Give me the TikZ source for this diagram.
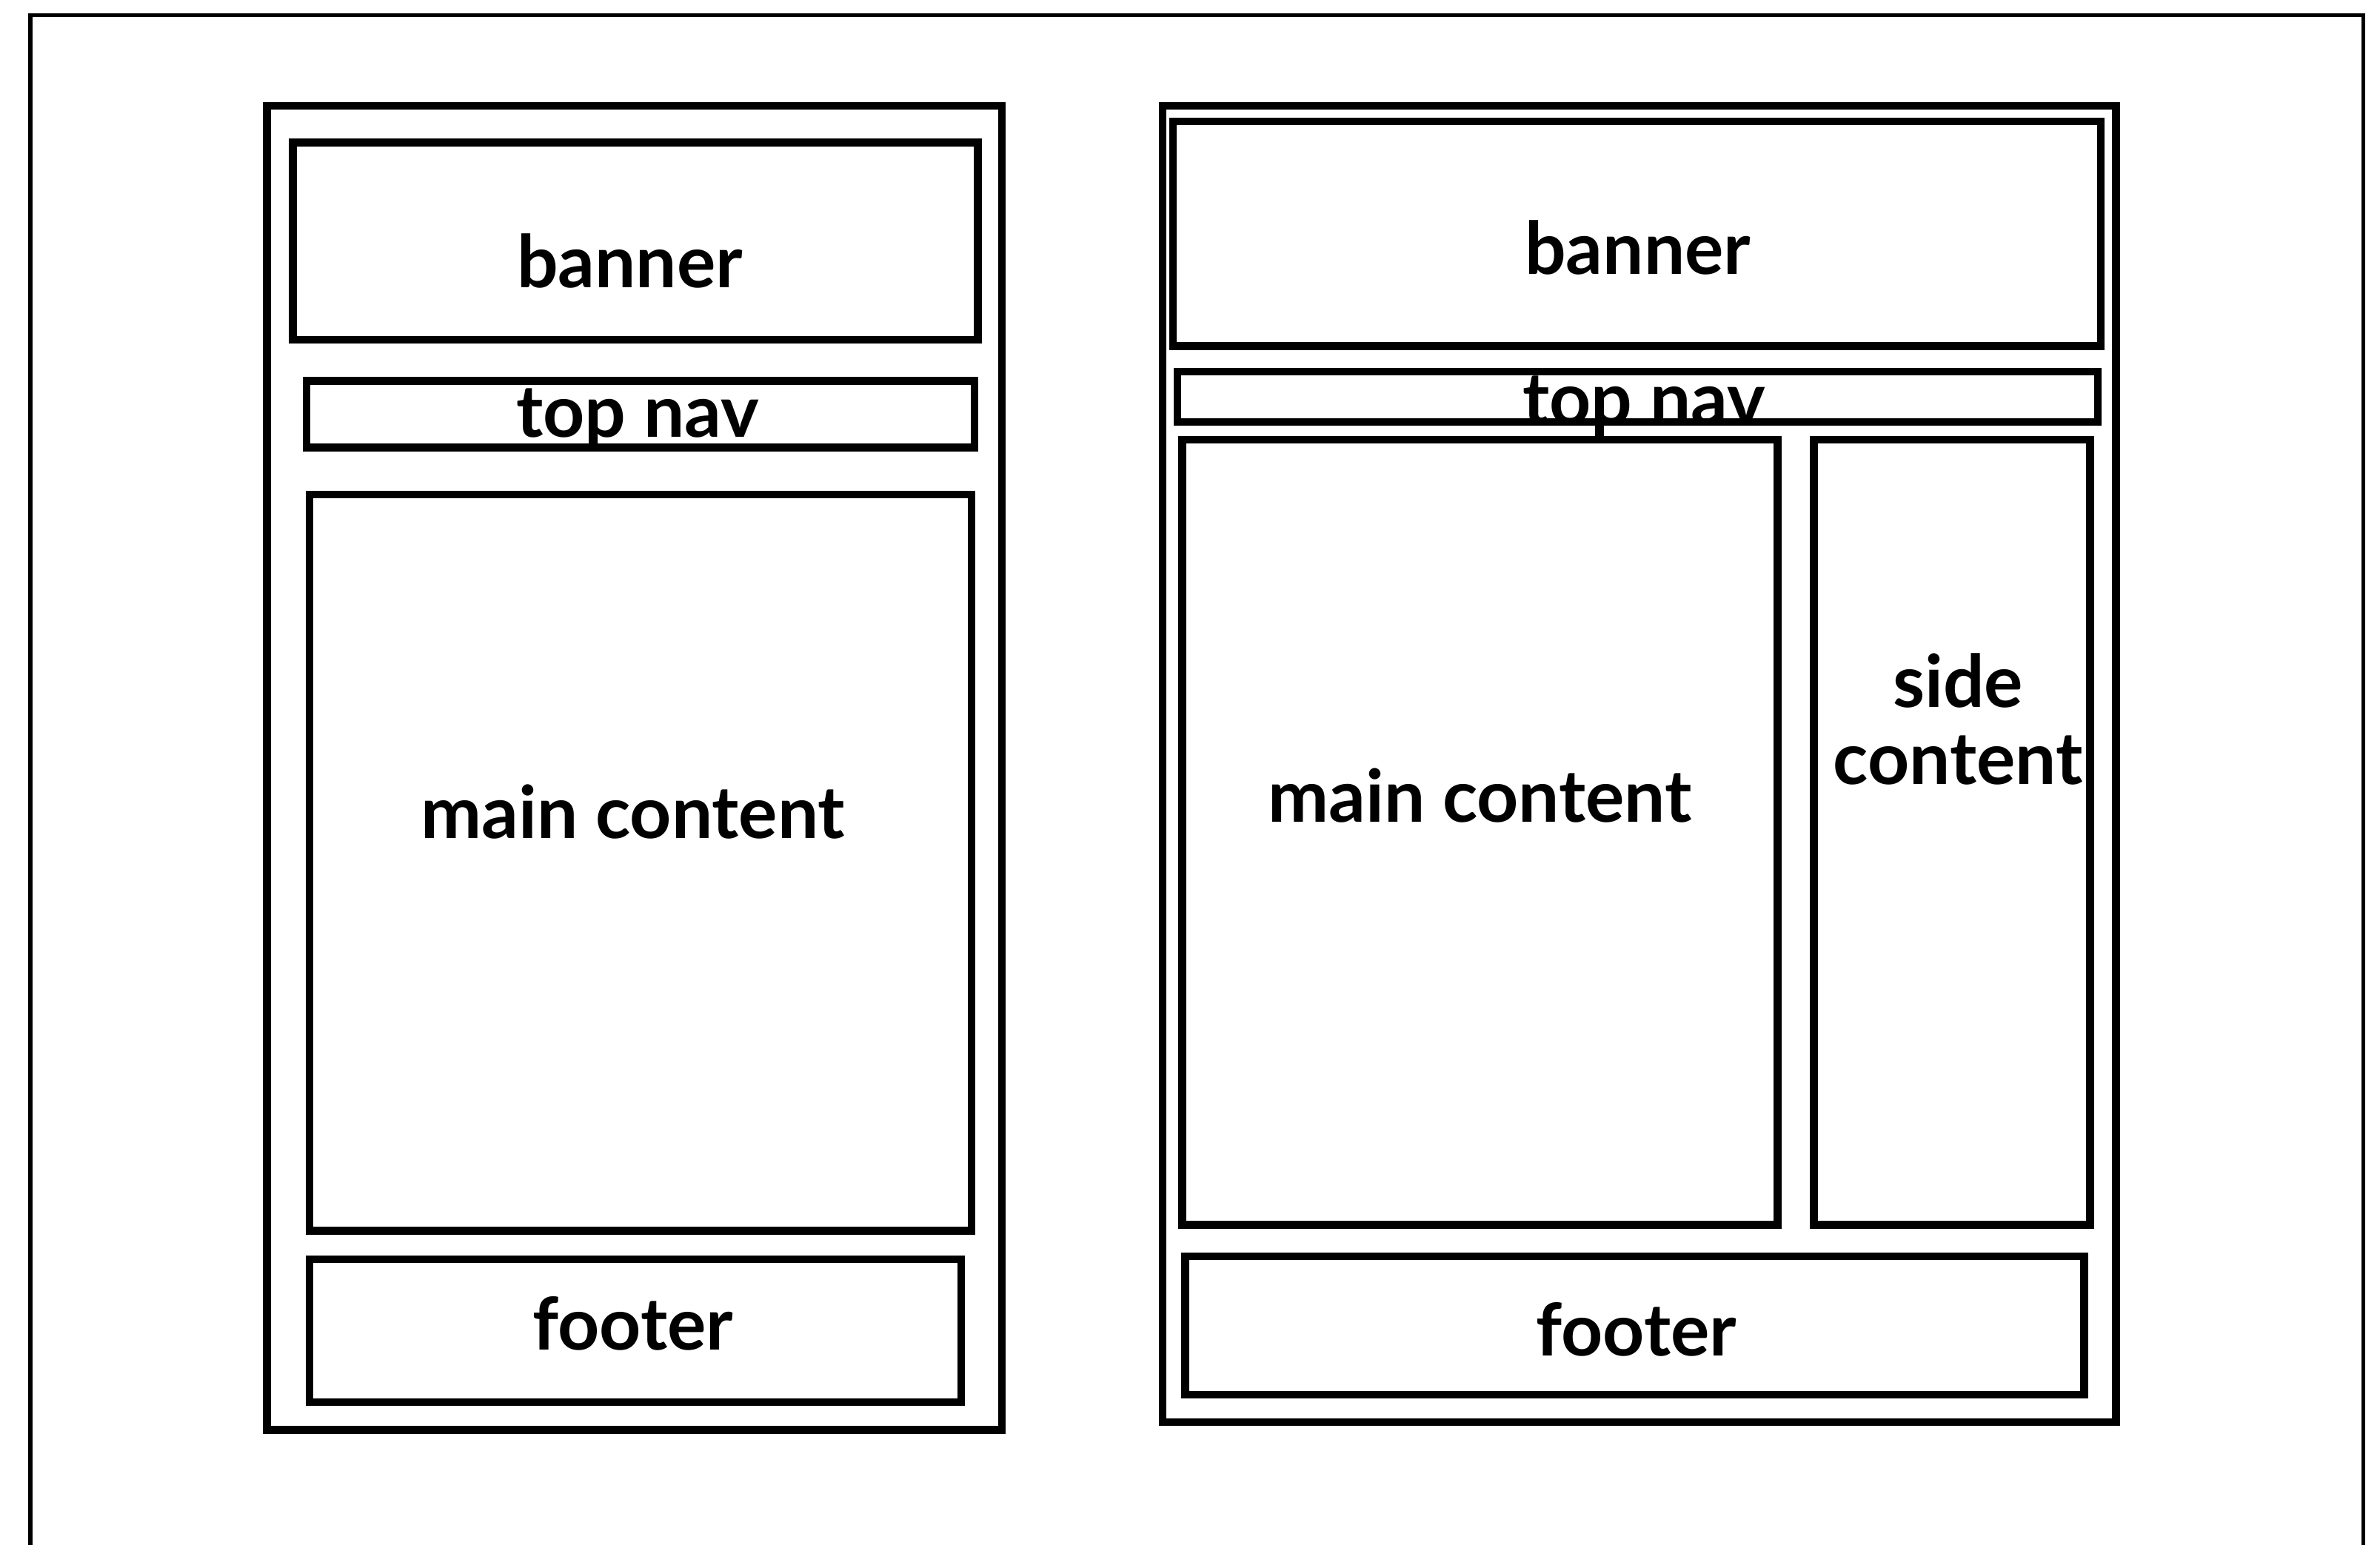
\documentclass[tikz,border=0pt]{standalone}
\usepackage{fontspec}
\setmainfont{Lato}
\usetikzlibrary{positioning}

\begin{document}
\begin{tikzpicture}[x=0.01cm,y=-0.01cm,
 font=\fontsize{13.6}{14.5}\selectfont\bfseries,
 box/.style={draw,line width=1.45pt,inner sep=0pt,outer sep=0pt},
 lbl/.style={inner sep=0pt,align=center}]
\useasboundingbox (0,0) rectangle (1568,1018);
% frame, open at the bottom
\draw[line width=0.75pt] (20,1018) -- (20,10) -- (1557,10) -- (1557,1018);
% left layout
\node[box,minimum width=4.84cm,minimum height=8.72cm] (lpage) at (418,506) {};
\node[box,minimum width=4.51cm,minimum height=1.30cm] (lbanner) at (418.5,159) {};
\node[box,minimum width=4.40cm,minimum height=0.44cm] (lnav) at (422,273) {};
\node[box,minimum width=4.36cm,minimum height=4.85cm] (lmain) at (422,568.5) {};
\node[box,minimum width=4.29cm,minimum height=0.94cm] (lfoot) at (418.5,877) {};
\node[lbl] (lbannert) at (415,172) {banner};
\node[lbl] (lnavt) at (420,276) {top nav};
\node[lbl] (lmaint) at (417,535) {main content};
\node[lbl] (lfoott) at (417,872) {footer};
% right layout
\node[box,minimum width=6.28cm,minimum height=8.67cm] (rpage) at (1080,503.5) {};
\node[box,minimum width=6.11cm,minimum height=1.48cm] (rbanner) at (1078.5,154) {};
\node[box,minimum width=6.06cm,minimum height=0.33cm] (rnav) at (1079,261.5) {};
\node[box,minimum width=3.92cm,minimum height=5.17cm] (rmain) at (975,548.5) {};
\node[box,minimum width=1.82cm,minimum height=5.17cm] (rside) at (1286,548.5) {};
\node[box,minimum width=5.92cm,minimum height=0.91cm] (rfoot) at (1077,873.5) {};
\node[lbl] (rbannert) at (1079,163) {banner};
\node[lbl] (rnavt) at (1083,268) {top nav};
\node[lbl] (rmaint) at (975,524) {main content};
\node[lbl] (rsidet) at (1290,474) {side\\content};
\node[lbl] (rfoott) at (1078,876) {footer};
\end{tikzpicture}
\end{document}
